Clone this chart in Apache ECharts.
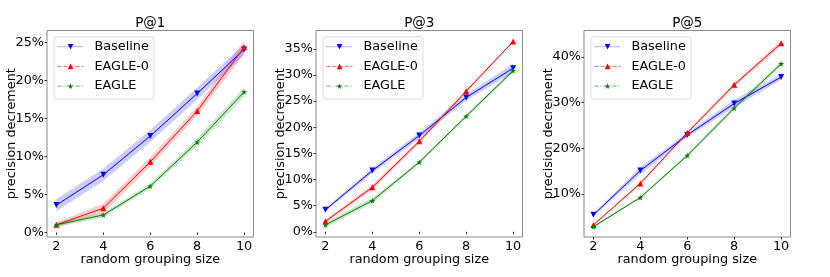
<!DOCTYPE html>
<html>
<head>
<meta charset="utf-8">
<script src="https://cdn.jsdelivr.net/npm/echarts@6/dist/echarts.min.js"></script>
<style>
html,body{margin:0;padding:0;background:#fff;}
#chart{width:830px;height:277px;}
</style>
</head>
<body>
<div id="chart"></div>
<script>
// ---------------- data ----------------
const xValues = [2, 4, 6, 8, 10];
const xTicks = [2, 4, 6, 8, 10];
const seriesNames = ['Baseline', 'EAGLE-0', 'EAGLE'];
const panelTitles = ['P@1', 'P@3', 'P@5'];

// P@1
const p1Baseline = [3.6, 7.6, 12.7, 18.3, 24.1];
const p1Eagle0   = [1.0, 3.2, 9.3, 16.0, 24.4];
const p1Eagle    = [1.0, 2.3, 6.1, 11.9, 18.5];
const p1BaselineErr = [0.8, 0.8, 0.8, 0.8, 0.7];
const p1Eagle0Err   = [0.3, 0.6, 0.6, 0.6, 0.9];
const p1EagleErr    = [0.3, 0.3, 0.3, 0.5, 0.6];
const p1YTicks = [0, 5, 10, 15, 20, 25];

// P@3
const p3Baseline = [4.2, 11.7, 18.4, 25.7, 31.3];
const p3Eagle0   = [2.0, 8.5, 17.3, 26.9, 36.4];
const p3Eagle    = [1.3, 5.95, 13.3, 22.1, 30.8];
const p3BaselineErr = [0.3, 0.5, 0.6, 0.6, 0.85];
const p3Eagle0Err   = [0.3, 0.5, 0.4, 0.3, 0.2];
const p3EagleErr    = [0.5, 0.5, 0.3, 0.4, 0.4];
const p3YTicks = [0, 5, 10, 15, 20, 25, 30, 35];

// P@5
const p5Baseline = [5.4, 15.1, 22.9, 29.8, 35.6];
const p5Eagle0   = [3.2, 12.3, 23.4, 33.9, 43.0];
const p5Eagle    = [2.8, 9.2, 18.4, 28.8, 38.5];
const p5BaselineErr = [0.3, 0.8, 0.5, 0.8, 0.6];
const p5Eagle0Err   = [0.2, 0.3, 0.3, 0.5, 0.6];
const p5EagleErr    = [0.2, 0.2, 0.4, 0.5, 0.5];
const p5YTicks = [10, 20, 30, 40];

// ---------------- layout / style ----------------
const FONT = 'DejaVu Sans';
const FS = 12.8;
const colors = ['#0000ff', '#ff0000', '#008000'];
const bandColors = ['rgba(0,0,255,0.2)', 'rgba(255,0,0,0.2)', 'rgba(0,128,0,0.2)'];
const legendLineTypes = ['dotted', 'dashed', [4, 2, 1, 2]];
const starPath = 'path://M50,0 L61,35 L98,35 L68,57 L79,91 L50,70 L21,91 L32,57 L2,35 L39,35 Z';
const symbols = ['triangle', 'triangle', starPath];
const symbolRot = [180, 0, 0];
const symbolSizes = [6, 6, 6];

const panels = [
  {vals: [p1Baseline, p1Eagle0, p1Eagle], errs: [p1BaselineErr, p1Eagle0Err, p1EagleErr], yTicks: p1YTicks, ymin: -0.6, ymax: 26.6, left: 47},
  {vals: [p3Baseline, p3Eagle0, p3Eagle], errs: [p3BaselineErr, p3Eagle0Err, p3EagleErr], yTicks: p3YTicks, ymin: -1.0, ymax: 38.5, left: 316},
  {vals: [p5Baseline, p5Eagle0, p5Eagle], errs: [p5BaselineErr, p5Eagle0Err, p5EagleErr], yTicks: p5YTicks, ymin: 0.55, ymax: 45.8, left: 584}
];
const GRID_TOP = 30.5, GRID_H = 206.5, GRID_W = 206.5;

const grids = [], xAxes = [], yAxes = [], series = [], titles = [], legends = [];

panels.forEach((p, pi) => {
  grids.push({left: p.left, top: GRID_TOP, width: GRID_W, height: GRID_H, show: true,
    borderColor: '#888', borderWidth: 1, backgroundColor: 'transparent'});
  titles.push({text: panelTitles[pi], left: p.left + GRID_W / 2, top: 16.5, textAlign: 'center', padding: 0,
    textStyle: {fontFamily: FONT, fontSize: 13.5, fontWeight: 'normal', color: '#000'}});
  xAxes.push({type: 'value', gridIndex: pi, min: 1.6, max: 10.4,
    name: 'random grouping size', nameLocation: 'middle', nameGap: 16, nameMoveOverlap: false,
    nameTextStyle: {fontFamily: FONT, fontSize: FS, color: '#000', verticalAlign: 'top'},
    axisLine: {show: false}, splitLine: {show: false},
    axisTick: {show: true, length: 2.5, customValues: xTicks, lineStyle: {color: '#333'}},
    axisLabel: {customValues: xTicks, margin: 3, fontFamily: FONT, fontSize: FS, color: '#000'}});
  yAxes.push({type: 'value', gridIndex: pi, min: p.ymin, max: p.ymax,
    name: 'precision decrement', nameLocation: 'middle', nameGap: 29, nameRotate: 90, nameMoveOverlap: false,
    nameTextStyle: {fontFamily: FONT, fontSize: FS, color: '#000'},
    axisLine: {show: false}, splitLine: {show: false},
    axisTick: {show: true, length: 2.5, customValues: p.yTicks, lineStyle: {color: '#333'}},
    axisLabel: {customValues: p.yTicks, margin: 3, fontFamily: FONT, fontSize: FS, color: '#000',
      formatter: v => v + '%'}});
  // bands
  p.vals.forEach((vals, si) => {
    const errs = p.errs[si];
    series.push({type: 'custom', name: 'band-' + pi + '-' + si, xAxisIndex: pi, yAxisIndex: pi,
      z: 1, silent: true, data: [[xValues[0], vals[0]]],
      renderItem: (params, api) => {
        const pts = [];
        for (let i = 0; i < xValues.length; i++) pts.push(api.coord([xValues[i], vals[i] + errs[i]]));
        for (let i = xValues.length - 1; i >= 0; i--) pts.push(api.coord([xValues[i], vals[i] - errs[i]]));
        return {type: 'polygon', shape: {points: pts}, style: {fill: bandColors[si]}};
      }});
  });
  // lines
  p.vals.forEach((vals, si) => {
    series.push({type: 'line', name: seriesNames[si], xAxisIndex: pi, yAxisIndex: pi, z: 3,
      data: xValues.map((x, i) => [x, vals[i]]),
      symbol: symbols[si], symbolRotate: symbolRot[si], symbolSize: symbolSizes[si],
      showAllSymbol: true,
      lineStyle: {color: colors[si], width: 1},
      itemStyle: {color: colors[si]}});
  });
  legends.push({left: p.left + 7, top: 36.7, orient: 'vertical',
    data: seriesNames.map((n, si) => ({name: n,
      lineStyle: {type: legendLineTypes[si], color: colors[si], opacity: 0.6, width: 1},
      itemStyle: {color: colors[si]}})),
    itemWidth: 26, itemHeight: 7, itemGap: 3.7,
    padding: [2, 5, 5, 3],
    backgroundColor: '#fff', borderColor: '#ddd', borderWidth: 1, borderRadius: 3,
    textStyle: {fontFamily: FONT, fontSize: FS, lineHeight: 16, color: '#000', padding: [0, 0, 0, 6]},
    selectedMode: false});
});

const chart = echarts.init(document.getElementById('chart'), null, {renderer: 'canvas'});
chart.setOption({
  animation: false,
  backgroundColor: '#fff',
  title: titles,
  legend: legends,
  grid: grids,
  xAxis: xAxes,
  yAxis: yAxes,
  series: series
});
</script>
</body>
</html>
